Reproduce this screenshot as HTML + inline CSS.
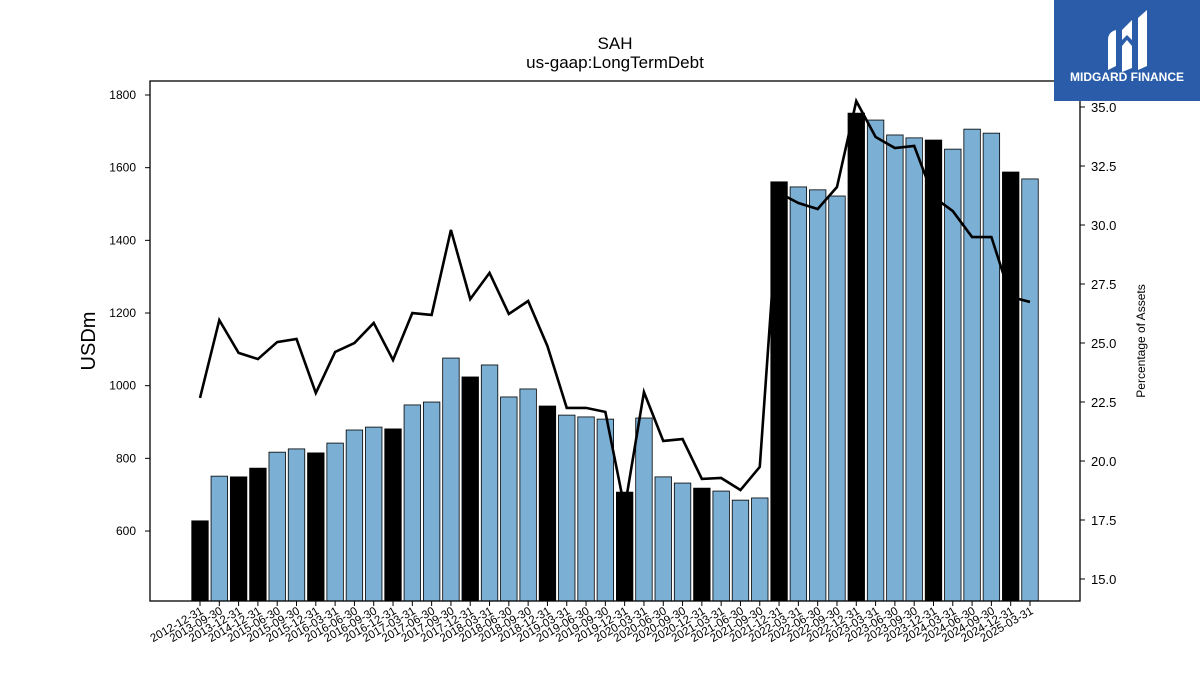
<!DOCTYPE html>
<html><head><meta charset="utf-8"><style>
body{margin:0;background:#fff;font-family:"Liberation Sans","DejaVu Sans",sans-serif}
svg{display:block}
</style></head><body>
<svg id="chart" width="1200" height="675" xmlns="http://www.w3.org/2000/svg">
<text x="615" y="49" text-anchor="middle" font-size="17">SAH</text>
<text x="615" y="68" text-anchor="middle" font-size="17">us-gaap:LongTermDebt</text>
<g id="bars"></g>
<g id="line"></g>
<g id="axes"></g>
<rect x="150" y="81" width="930" height="520" fill="none" stroke="#000" stroke-width="1.3"/>
<text transform="translate(95,341) rotate(-90)" text-anchor="middle" font-size="20">USDm</text>
<text transform="translate(1145,341) rotate(-90)" text-anchor="middle" font-size="12">Percentage of Assets</text>
<g>
<rect x="1054" y="0" width="146" height="101" fill="#2a5caa"/>
<path d="M1108 40 Q1108 32 1116 30 L1116 66 L1108 70 Z" fill="#fff"/>
<path d="M1122 30 L1132 20 L1132 40 L1127 35 L1122 40 Z" fill="#fff"/>
<path d="M1122 46 L1127 40 L1132 46 L1132 68 L1122 72 Z" fill="#fff"/>
<path d="M1138 18 L1147 10 L1147 66 L1138 70 Z" fill="#fff"/>
<text x="1127" y="81" text-anchor="middle" font-size="12" font-weight="bold" fill="#fff">MIDGARD FINANCE</text>
</g>
</svg>
<script>
const categories=["2012-12-31","2013-09-30","2013-12-31","2014-12-31","2015-06-30","2015-09-30","2015-12-31","2016-03-31","2016-06-30","2016-09-30","2016-12-31","2017-03-31","2017-06-30","2017-09-30","2017-12-31","2018-03-31","2018-06-30","2018-09-30","2018-12-31","2019-03-31","2019-06-30","2019-09-30","2019-12-31","2020-03-31","2020-06-30","2020-09-30","2020-12-31","2021-03-31","2021-06-30","2021-09-30","2021-12-31","2022-03-31","2022-06-30","2022-09-30","2022-12-31","2023-03-31","2023-06-30","2023-09-30","2023-12-31","2024-03-31","2024-06-30","2024-09-30","2024-12-31","2025-03-31"];
const debtValues=[628,751,749,773,817,826,815,842,878,886,881,947,955,1076,1024,1057,969,991,944,919,914,908,707,911,749,732,718,710,685,691,1561,1547,1539,1522,1750,1731,1690,1682,1676,1651,1706,1695,1588,1569];
const pctValues=[22.67,25.97,24.58,24.32,25.04,25.17,22.88,24.62,25.0,25.85,24.28,26.27,26.19,29.79,26.86,27.97,26.23,26.78,24.87,22.25,22.25,22.08,18.0,22.92,20.85,20.93,19.24,19.28,18.77,19.75,31.36,30.93,30.68,31.61,35.25,33.73,33.26,33.35,31.19,30.59,29.49,29.49,26.95,26.74];
const leftTicks=[600,800,1000,1200,1400,1600,1800];
const rightTicks=[15.0,17.5,20.0,22.5,25.0,27.5,30.0,32.5,35.0];
const NS="http://www.w3.org/2000/svg";
const yL=v=>95+(1800-v)/200*72.67;
const yR=v=>107+(35-v)/2.5*59;
const xC=i=>200+i*(830/(categories.length-1));
const bw=16.5;
function mk(tag,attrs,parent){const e=document.createElementNS(NS,tag);for(const k in attrs)e.setAttribute(k,attrs[k]);parent.appendChild(e);return e;}
const bars=document.getElementById('bars'),line=document.getElementById('line'),axes=document.getElementById('axes');
categories.forEach((c,i)=>{
  const y=yL(debtValues[i]);
  const r=mk('rect',{x:xC(i)-bw/2,y:y,width:bw,height:601-y,fill:c.endsWith('12-31')?'#000':'#7bafd4',stroke:'#000','stroke-width':0.8},bars);
  
  
  mk('line',{x1:xC(i),x2:xC(i),y1:601,y2:606,stroke:'#000'},axes);
  const t=mk('text',{transform:`translate(${xC(i)+4},613) rotate(-30)`,'text-anchor':'end','font-size':11.5},axes);
  t.textContent=c;
  
  
});
const pl=mk('polyline',{points:pctValues.map((v,i)=>xC(i)+','+yR(v)).join(' '),fill:'none',stroke:'#000','stroke-width':2.6},line);


leftTicks.forEach(v=>{
  mk('line',{x1:145,x2:150,y1:yL(v),y2:yL(v),stroke:'#000'},axes);
  const t=mk('text',{x:136,y:yL(v)+4,'text-anchor':'end','font-size':12},axes);
  t.textContent=v;
  
  
});
rightTicks.forEach(v=>{
  mk('line',{x1:1080,x2:1085,y1:yR(v),y2:yR(v),stroke:'#000'},axes);
  const t=mk('text',{x:1091,y:yR(v)+5,'font-size':13},axes);
  t.textContent=v.toFixed(1);
  
  
});
</script>
</body></html>
